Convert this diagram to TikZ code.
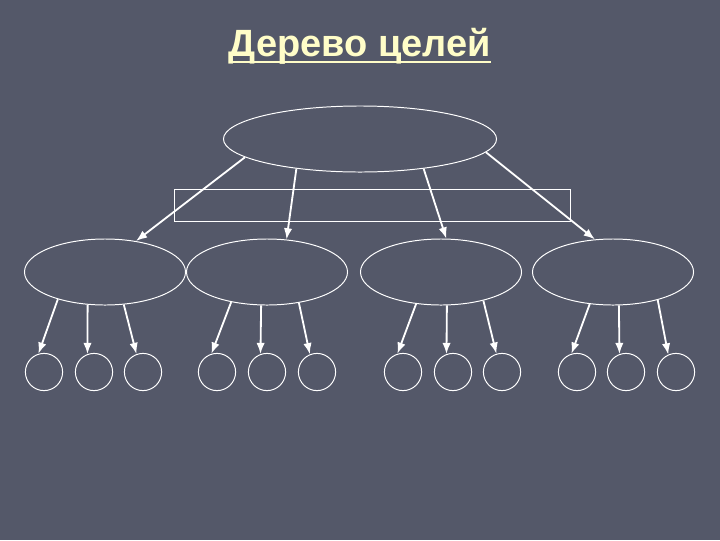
\documentclass[tikz,border=0pt]{standalone}
\usepackage{fontspec}
\setmainfont{Liberation Sans}
\usetikzlibrary{shapes.geometric,arrows.meta}
\definecolor{slate}{RGB}{84,88,105}
\definecolor{titleyellow}{RGB}{255,253,200}
\tikzset{
	goal/.style={draw=white, line width=0.7pt, ellipse, inner sep=0pt, minimum width=6.825cm, minimum height=1.65cm},
	subgoal/.style={draw=white, line width=0.7pt, ellipse, inner sep=0pt, minimum width=4.025cm, minimum height=1.65cm},
	leaf/.style={draw=white, line width=0.7pt, circle, inner sep=0pt, minimum size=0.93cm},
	arr/.style={white, line width=1.3pt, -{Latex[length=8pt,width=6pt]}}
}

\begin{document}
\begin{tikzpicture}[x=0.025cm, y=-0.025cm]
		%%%%% START %%%%%
		
		\fill[slate] (0, 0) rectangle (720, 540);
		
		\node[inner sep=0pt, text=titleyellow, font=\bfseries\fontsize{27}{32}\selectfont] (title) at (360, 46) {Дерево целей};
		\draw[titleyellow, line width=1.4pt] ([yshift=-4pt]title.base west) -- ([yshift=-4pt]title.base east);
		
		\node[goal] (g) at (360, 139) {};
		\draw[white, line width=0.7pt] (174, 189) rectangle (570, 221);
		
		\node[subgoal] (s1) at (105, 272) {};
		\node[subgoal] (s2) at (267, 272) {};
		\node[subgoal] (s3) at (441, 272) {};
		\node[subgoal] (s4) at (613, 272) {};
		
		\node[leaf] (l11) at (44, 372) {};
		\node[leaf] (l12) at (94, 372) {};
		\node[leaf] (l13) at (143, 372) {};
		\node[leaf] (l21) at (217, 372) {};
		\node[leaf] (l22) at (267, 372) {};
		\node[leaf] (l23) at (317, 372) {};
		\node[leaf] (l31) at (403, 372) {};
		\node[leaf] (l32) at (453, 372) {};
		\node[leaf] (l33) at (502, 372) {};
		\node[leaf] (l41) at (577, 372) {};
		\node[leaf] (l42) at (626, 372) {};
		\node[leaf] (l43) at (676, 372) {};
		
		\draw[arr] (g.189) -- (s1.45);
		\draw[arr] (g.205) -- (s2.59);
		\draw[arr] (g.335) -- (s3.81);
		\draw[arr] (g.354) -- (s4.119);
		
		\draw[arr] (s1.210) -- (l11.107);
		\draw[arr] (s1.242) -- (l12.110);
		\draw[arr] (s1.300) -- (l13.110);
		
		\draw[arr] (s2.220) -- (l21.107);
		\draw[arr] (s2.260) -- (l22.110);
		\draw[arr] (s2.316) -- (l23.112);
		
		\draw[arr] (s3.232) -- (l31.107);
		\draw[arr] (s3.280) -- (l32.110);
		\draw[arr] (s3.326) -- (l33.107);
		
		\draw[arr] (s4.234) -- (l41.107);
		\draw[arr] (s4.280) -- (l42.110);
		\draw[arr] (s4.328) -- (l43.114);
		
		%%%%% END %%%%%
	\end{tikzpicture}
\end{document}
